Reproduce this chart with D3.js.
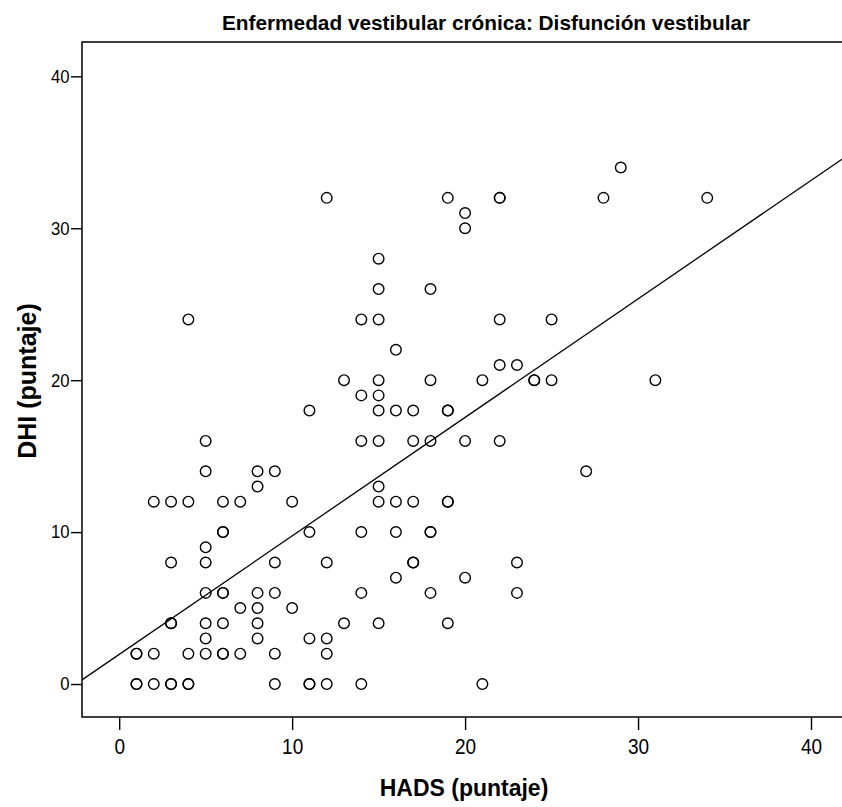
<!DOCTYPE html>
<html>
<head>
<meta charset="utf-8">
<script src="https://cdn.jsdelivr.net/npm/d3@7"></script>
<style>
  body { margin: 0; background: #fff; }
  text { font-family: "Liberation Sans", Arial, sans-serif; }
</style>
</head>
<body>
<div id="chart"></div>
<script>
// Data (repeated pairs = overlapping circles)
const hads = [
  1, 1, 2, 3, 3, 4, 4, 9, 11, 11, 12, 14, 21,
  1, 1, 2, 4, 5, 6, 6, 7, 9, 12,
  5, 8, 11, 12,
  3, 3, 5, 6, 8, 13, 15, 19,
  7, 8, 10,
  5, 6, 6, 8, 9, 14, 18, 23,
  16, 20,
  3, 5, 9, 12, 17, 17, 23,
  5,
  6, 6, 11, 14, 16, 18, 18,
  2, 3, 4, 6, 7, 10, 15, 16, 17, 19, 19,
  8, 15,
  5, 8, 9, 27,
  5, 14, 15, 17, 18, 20, 22,
  11, 15, 16, 17, 19, 19,
  14, 15,
  13, 15, 18, 21, 24, 24, 25, 31,
  22, 23,
  16,
  4, 14, 15, 22, 25,
  15, 18,
  15,
  20,
  20,
  12, 19, 22, 22, 28, 34,
  29
];
const dhi = [
  0, 0, 0, 0, 0, 0, 0, 0, 0, 0, 0, 0, 0,
  2, 2, 2, 2, 2, 2, 2, 2, 2, 2,
  3, 3, 3, 3,
  4, 4, 4, 4, 4, 4, 4, 4,
  5, 5, 5,
  6, 6, 6, 6, 6, 6, 6, 6,
  7, 7,
  8, 8, 8, 8, 8, 8, 8,
  9,
  10, 10, 10, 10, 10, 10, 10,
  12, 12, 12, 12, 12, 12, 12, 12, 12, 12, 12,
  13, 13,
  14, 14, 14, 14,
  16, 16, 16, 16, 16, 16, 16,
  18, 18, 18, 18, 18, 18,
  19, 19,
  20, 20, 20, 20, 20, 20, 20, 20,
  21, 21,
  22,
  24, 24, 24, 24, 24,
  26, 26,
  28,
  30,
  31,
  32, 32, 32, 32, 32, 32,
  34
];
const xTicks = [0, 10, 20, 30, 40];
const yTicks = [0, 10, 20, 30, 40];
// fitted line: DHI = a + b * HADS
const fitIntercept = 1.95;
const fitSlope = 0.78;

const title = 'Enfermedad vestibular crónica: Disfunción vestibular';
const xTitle = 'HADS (puntaje)';
const yTitle = 'DHI (puntaje)';

const width = 842;
const height = 807;
const plot = { left: 82, top: 42, right: 843, bottom: 717 };

const x = d3.scaleLinear().domain([-2.15, 41.85]).range([plot.left, plot.right]);
const y = d3.scaleLinear().domain([-2.17, 42.26]).range([plot.bottom, plot.top]);

const svg = d3.select('#chart')
  .append('svg')
  .attr('width', width)
  .attr('height', height);

svg.append('defs').append('clipPath')
  .attr('id', 'clip')
  .append('rect')
  .attr('x', plot.left)
  .attr('y', plot.top)
  .attr('width', plot.right - plot.left)
  .attr('height', plot.bottom - plot.top);

// frame
svg.append('rect')
  .attr('x', plot.left)
  .attr('y', plot.top)
  .attr('width', plot.right - plot.left)
  .attr('height', plot.bottom - plot.top)
  .attr('fill', 'none')
  .attr('stroke', '#000')
  .attr('stroke-width', 1.5);

// axes (labels are a bit taller than wide in the original)
const xAxis = svg.append('g')
  .attr('transform', `translate(0,${plot.bottom})`)
  .call(d3.axisBottom(x).tickValues(xTicks).tickSize(13).tickFormat(d3.format('d')));
xAxis.select('.domain').remove();
xAxis.selectAll('line').attr('stroke-width', 1.4);
xAxis.selectAll('text')
  .attr('font-size', 19)
  .attr('fill', '#000')
  .attr('y', 0)
  .attr('dy', 0)
  .attr('transform', 'translate(0,37) scale(1,1.18)');

const yAxis = svg.append('g')
  .attr('transform', `translate(${plot.left},0)`)
  .call(d3.axisLeft(y).tickValues(yTicks).tickSize(11).tickFormat(d3.format('d')));
yAxis.select('.domain').remove();
yAxis.selectAll('line').attr('stroke-width', 1.4);
yAxis.selectAll('text')
  .attr('font-size', 16.7)
  .attr('fill', '#000')
  .attr('x', 0)
  .attr('transform', 'translate(-12.5,0) scale(1,1.1)');

// regression line
const fit = v => fitIntercept + fitSlope * v;
svg.append('line')
  .attr('clip-path', 'url(#clip)')
  .attr('x1', x(x.domain()[0]))
  .attr('y1', y(fit(x.domain()[0])))
  .attr('x2', x(x.domain()[1]))
  .attr('y2', y(fit(x.domain()[1])))
  .attr('stroke', '#000')
  .attr('stroke-width', 1.3);

// points
svg.append('g')
  .attr('clip-path', 'url(#clip)')
  .selectAll('circle')
  .data(d3.range(hads.length))
  .enter()
  .append('circle')
  .attr('cx', i => x(hads[i]))
  .attr('cy', i => y(dhi[i]))
  .attr('r', 5.3)
  .attr('fill', 'none')
  .attr('stroke', '#000')
  .attr('stroke-width', 1.4);

// titles
svg.append('text')
  .attr('x', 486)
  .attr('y', 30)
  .attr('text-anchor', 'middle')
  .attr('font-size', 20.8)
  .attr('font-weight', 'bold')
  .text(title);

svg.append('text')
  .attr('x', 464)
  .attr('y', 796)
  .attr('text-anchor', 'middle')
  .attr('font-size', 23)
  .attr('font-weight', 'bold')
  .text(xTitle);

svg.append('text')
  .attr('transform', `translate(36,381) rotate(-90)`)
  .attr('text-anchor', 'middle')
  .attr('font-size', 25)
  .attr('font-weight', 'bold')
  .text(yTitle);
</script>
</body>
</html>
